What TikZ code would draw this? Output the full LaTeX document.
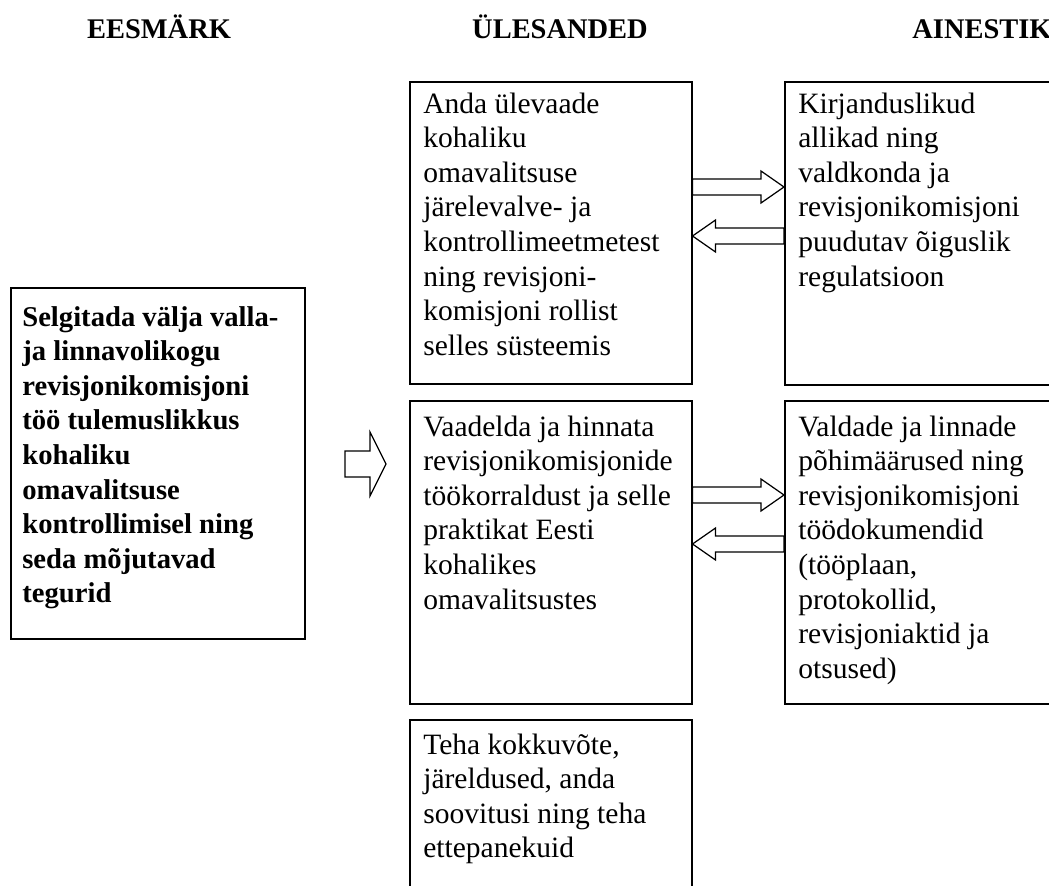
\documentclass[tikz,border=0pt]{standalone}
\usepackage{fontspec}
\setmainfont{Liberation Serif}
\usetikzlibrary{positioning}
\usetikzlibrary{calc}

\begin{document}
\begin{tikzpicture}[x=0.02cm,y=-0.02cm,
		box/.style={draw,rectangle,line width=0.9pt,anchor=north west,inner sep=0pt},
		txt/.style={inner sep=0pt,align=left,font=\fontsize{16.8}{19.7}\selectfont},
		head/.style={anchor=base,font=\fontsize{16.2}{19.7}\selectfont\bfseries},
		fat/.style n args={3}{line width=0.7pt,to path={let \p1=(\tikztostart),\p2=(\tikztotarget),\n1={ifthenelse(\x2>\x1,1,-1)} in
			(\x1,{\y1-#1*0.02cm}) -- ({\x2-(\n1)*#3*0.02cm},{\y1-#1*0.02cm}) -- ({\x2-(\n1)*#3*0.02cm},{\y1-#2*0.02cm}) -- (\x2,\y1)
			-- ({\x2-(\n1)*#3*0.02cm},{\y1+#2*0.02cm}) -- ({\x2-(\n1)*#3*0.02cm},{\y1+#1*0.02cm}) -- (\x1,{\y1+#1*0.02cm}) -- cycle}}]
		\useasboundingbox (0,0) rectangle (1049,886);
		\node[head] at (159,38) (hgoal) {EESMÄRK};
		\node[head] at (560,38) (htask) {ÜLESANDED};
		\node[head] at (982,38) (hsrc) {AINESTIK};
		\node[box,minimum width=5.88cm,minimum height=7.02cm] at (10,287) (goal) {};
		\node[box,minimum width=5.64cm,minimum height=6.04cm] at (409,81) (task1) {};
		\node[box,minimum width=5.64cm,minimum height=6.06cm] at (409,400) (task2) {};
		\node[box,minimum width=5.64cm,minimum height=4cm] at (409,719) (task3) {};
		\node[box,minimum width=5.4cm,minimum height=6.06cm] at (784,81) (src1) {};
		\node[box,minimum width=5.4cm,minimum height=6.06cm] at (784,400) (src2) {};
		\node[txt,font=\fontsize{16.3}{19.7}\selectfont\bfseries,below right=0.29cm and 0.24cm of goal.north west] (goaltxt) {\strut Selgitada välja valla-\\ja linnavolikogu\\revisjonikomisjoni\\töö tulemuslikkus\\kohaliku\\omavalitsuse\\kontrollimisel ning\\seda mõjutavad\\tegurid};
		\node[txt,below right=0.15cm and 0.28cm of task1.north west] (task1txt) {\strut Anda ülevaade\\kohaliku\\omavalitsuse\\järelevalve- ja\\kontrollimeetmetest\\ning revisjoni-\\komisjoni rollist\\selles süsteemis};
		\node[txt,below right=0.23cm and 0.28cm of task2.north west] (task2txt) {\strut Vaadelda ja hinnata\\revisjonikomisjonide\\töökorraldust ja selle\\praktikat Eesti\\kohalikes\\omavalitsustes};
		\node[txt,below right=0.21cm and 0.28cm of task3.north west] (task3txt) {\strut Teha kokkuvõte,\\järeldused, anda\\soovitusi ning teha\\ettepanekuid};
		\node[txt,below right=0.15cm and 0.28cm of src1.north west] (src1txt) {\strut Kirjanduslikud\\allikad ning\\valdkonda ja\\revisjonikomisjoni\\puudutav õiguslik\\regulatsioon};
		\node[txt,below right=0.23cm and 0.28cm of src2.north west] (src2txt) {\strut Valdade ja linnade\\põhimäärused ning\\revisjonikomisjoni\\töödokumendid\\(tööplaan,\\protokollid,\\revisjoniaktid ja\\otsused)};
		\coordinate (bigtail) at (345,464);
		\coordinate (bigtip) at (386,464);
		\draw[fat={13}{32}{16}] (bigtail) to (bigtip);
		\draw[fat={8}{16}{23}] (task1.east |- 0,187) to (src1.west |- 0,187);
		\draw[fat={8}{16}{23}] (src1.west |- 0,236) to (task1.east |- 0,236);
		\draw[fat={8}{16}{23}] (task2.east |- 0,495) to (src2.west |- 0,495);
		\draw[fat={8}{16}{23}] (src2.west |- 0,544) to (task2.east |- 0,544);
	\end{tikzpicture}
\end{document}
